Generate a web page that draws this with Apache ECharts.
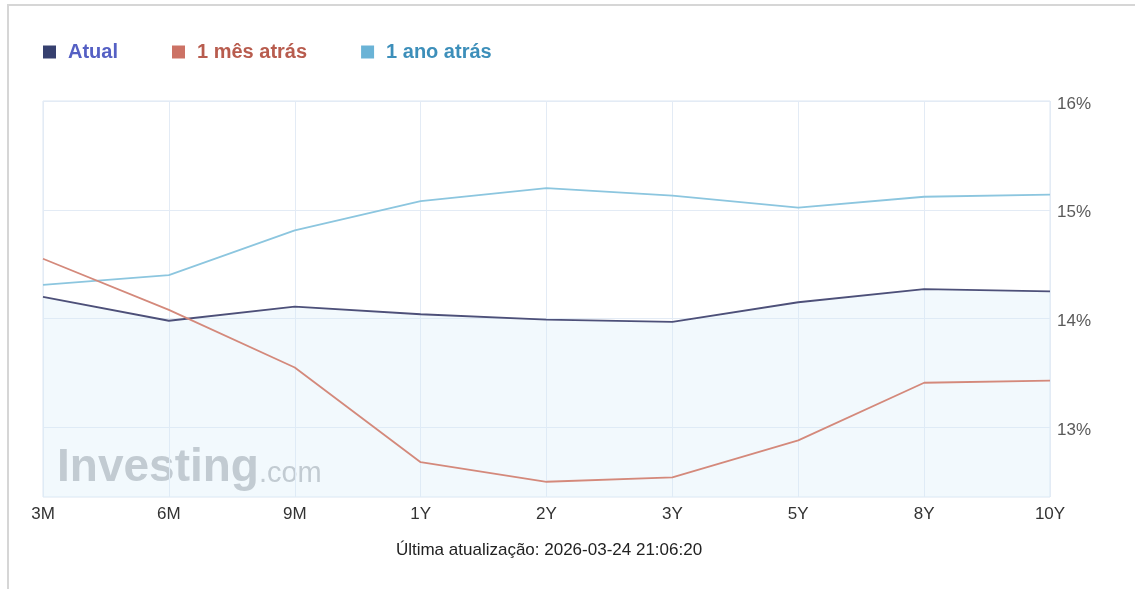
<!DOCTYPE html>
<html>
<head>
<meta charset="utf-8">
<script src="https://cdn.jsdelivr.net/npm/echarts@6/dist/echarts.min.js"></script>
<style>
html,body{margin:0;padding:0;background:#fff;}
#chart{width:1135px;height:589px;}
</style>
</head>
<body>
<div id="chart"></div>
<script>
const categories = ['3M','6M','9M','1Y','2Y','3Y','5Y','8Y','10Y'];
const atual   = [14.20, 13.98, 14.11, 14.04, 13.99, 13.97, 14.15, 14.27, 14.25];
const mesAtras = [14.55, 14.08, 13.55, 12.68, 12.50, 12.54, 12.88, 13.41, 13.43];
const anoAtras = [14.31, 14.40, 14.81, 15.08, 15.20, 15.13, 15.02, 15.12, 15.14];
const yTicks = [13, 14, 15, 16];
const footerText = 'Última atualização: 2026-03-24 21:06:20';

const chart = echarts.init(document.getElementById('chart'), null, {renderer:'canvas'});
const gridLine = '#e3ebf5';
const FF = 'Liberation Sans, Arial, sans-serif';
chart.setOption({
  animation:false,
  backgroundColor:'#fff',
  legend:{
    left:38, top:37,
    icon:'rect', itemWidth:13, itemHeight:13, itemGap:54,
    selectedMode:false,
    textStyle:{fontSize:20, fontWeight:'bold', fontFamily:FF, padding:[0,0,0,7]},
    data:[
      {name:'Atual', itemStyle:{color:'#36406f'}, textStyle:{color:'#5560c4'}},
      {name:'1 mês atrás', itemStyle:{color:'#cc7265'}, textStyle:{color:'#b85c4e'}},
      {name:'1 ano atrás', itemStyle:{color:'#6ab3d6'}, textStyle:{color:'#3d8fba'}}
    ]
  },
  grid:{left:43, right:85, top:101, bottom:92, show:true, borderColor:'#dce6f2', borderWidth:1, containLabel:false},
  xAxis:{
    type:'category', data:categories, boundaryGap:false,
    axisLine:{show:false}, axisTick:{show:false},
    axisLabel:{color:'#333', fontSize:17, margin:9, fontFamily:FF},
    splitLine:{show:true, lineStyle:{color:gridLine, width:1}}
  },
  yAxis:{
    type:'value', position:'right', min:12.36, max:16,
    axisLine:{show:false},
    axisTick:{show:false, customValues:yTicks},
    axisLabel:{customValues:yTicks, margin:7, formatter:v=>'{p|'+Math.round(v)+'%}',
      rich:{p:{color:'#5a5a5a', fontSize:17, fontFamily:FF, padding:[6,0,0,0]}}},
    splitLine:{show:true, lineStyle:{color:gridLine, width:1}}
  },
  graphic:[
    {type:'line', shape:{x1:8, y1:5, x2:1135, y2:5}, style:{stroke:'#d6d6d6', lineWidth:2}, silent:true},
    {type:'line', shape:{x1:8, y1:4, x2:8, y2:589}, style:{stroke:'#d6d6d6', lineWidth:2}, silent:true},
    {type:'text', left:57, top:445, z:0, silent:true,
      style:{text:'{a|Investing}{b|.com}', rich:{
        a:{fontSize:46, fontWeight:'bold', fill:'#b9bcc0', fontFamily:FF},
        b:{fontSize:29, fill:'#b9bcc0', fontFamily:FF, padding:[12,0,0,0]}
      }}},
    {type:'text', x:549, y:550, silent:true,
      style:{text:footerText, fontSize:17, fill:'#222', fontFamily:FF, align:'center', verticalAlign:'middle'}}
  ],
  series:[
    {name:'1 ano atrás', type:'line', data:anoAtras, symbol:'none', z:3,
      lineStyle:{color:'#8cc6df', width:1.8}, itemStyle:{color:'#6ab3d6'}},
    {name:'1 mês atrás', type:'line', data:mesAtras, symbol:'none', z:3,
      lineStyle:{color:'#d4897b', width:1.8}, itemStyle:{color:'#cc7265'}},
    {name:'Atual', type:'line', data:atual, symbol:'none', z:2,
      lineStyle:{color:'#4d5079', width:1.8}, itemStyle:{color:'#36406f'},
      areaStyle:{color:'rgba(214,236,250,0.45)', origin:'start'}}
  ]
});
</script>
</body>
</html>
